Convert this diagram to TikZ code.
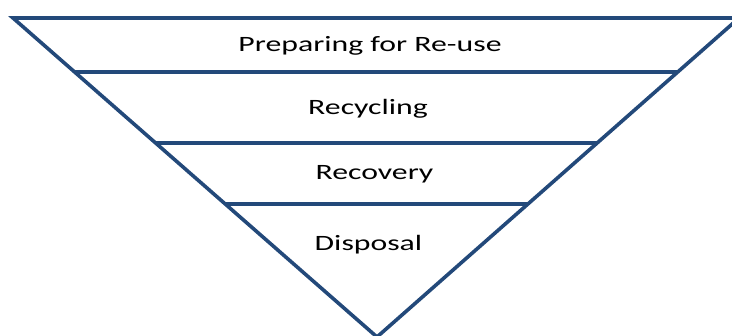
\documentclass[tikz,border=0pt]{standalone}
\usepackage{fontspec}
\setmainfont{Carlito}[FakeStretch=1.45]
\usepackage{tikz}
\usetikzlibrary{calc}
\definecolor{wasteblue}{RGB}{35,73,122}
\tikzset{
  edge/.style={line width=3.6pt, wasteblue},
  level/.style={anchor=base, inner sep=0pt, font=\fontsize{21.9}{26}\selectfont}
}

\begin{document}
\begin{tikzpicture}[x=1pt, y=-1pt]
\useasboundingbox (0,0) rectangle (732,336);
\coordinate (tl) at (13,18);
\coordinate (tr) at (739,18);
\coordinate (apex) at (377,337);
\draw[edge, line join=miter] (tl)--(tr)--(apex)--cycle;
\draw[edge] ($(tl)!0.169!(apex)$)--($(tr)!0.169!(apex)$);
\draw[edge] ($(tl)!0.392!(apex)$)--($(tr)!0.392!(apex)$);
\draw[edge] ($(tl)!0.583!(apex)$)--($(tr)!0.583!(apex)$);
\node[level] (reuse) at (370,52) {Preparing for Re-use};
\node[level] (recycling) at (368,115) {Recycling};
\node[level] (recovery) at (374.5,180) {Recovery};
\node[level] (disposal) at (368.5,251) {Disposal};
\end{tikzpicture}
\end{document}
